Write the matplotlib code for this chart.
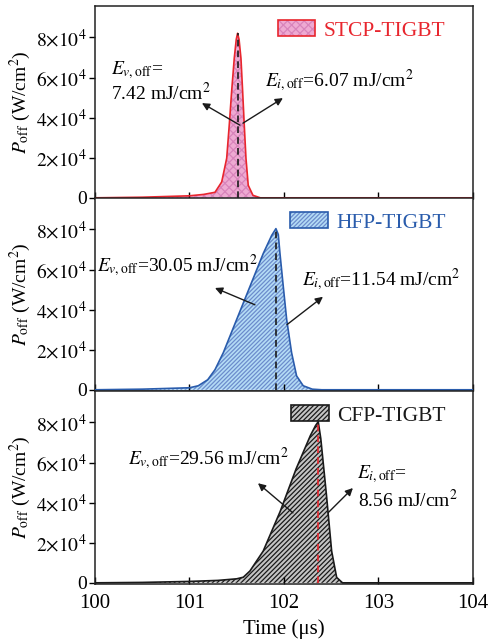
import matplotlib
matplotlib.use("Agg")
import matplotlib.pyplot as plt
from matplotlib.patches import Patch
from matplotlib.legend_handler import HandlerTuple
from matplotlib.ticker import FixedLocator, FixedFormatter

plt.rcParams['font.family'] = ['Liberation Serif', 'DejaVu Serif']
plt.rcParams['mathtext.fontset'] = 'stix'
plt.rcParams['axes.linewidth'] = 1.1
plt.rcParams['hatch.linewidth'] = 0.9

# turn-off power density (W/cm^2) vs time (us)
t_stcp = [100.0, 100.5, 101.0, 101.15, 101.27, 101.341, 101.394, 101.421, 101.446,
          101.474, 101.495, 101.509, 101.525, 101.545, 101.563, 101.58, 101.598,
          101.622, 101.672, 101.75, 104.0]
p_stcp = [0, 300, 1000, 1700, 2750, 7900, 19750, 36250, 52900,
          69600, 79000, 82100, 79000, 69600, 52900, 36250, 19750,
          6250, 1250, 0, 0]

t_hfp = [100.0, 100.5, 101.0, 101.093, 101.193, 101.27, 101.358, 101.499, 101.64,
         101.781, 101.87, 101.915, 101.94, 101.958, 101.993, 102.029, 102.081,
         102.134, 102.204, 102.3, 102.4, 104.0]
p_hfp = [0, 300, 1000, 2000, 5000, 10000, 18500, 35000, 51500,
         68000, 77000, 80400, 77500, 68000, 51500, 35000, 18500,
         6900, 2000, 300, 0, 0]

t_cfp = [100.0, 100.5, 101.0, 101.3, 101.5, 101.57, 101.64, 101.78, 101.96,
         102.13, 102.28, 102.335, 102.363, 102.39, 102.45, 102.505, 102.558,
         102.62, 104.0]
p_cfp = [0, 200, 700, 1200, 2000, 2800, 5900, 15800, 35600,
         57000, 73500, 78500, 80400, 72000, 43800, 15800, 2700,
         0, 0]

names = ['STCP-TIGBT', 'HFP-TIGBT', 'CFP-TIGBT']
peak_t = [101.509, 101.915, 102.363]
peak_p = [82100, 80400, 80400]
ev_text = ['7.42', '30.05', '29.56']
ei_text = ['6.07', '11.54', '8.56']

yticks = [0, 20000, 40000, 60000, 80000]
ytick_labels = ['0', r'$2{\times}10^4$', r'$4{\times}10^4$', r'$6{\times}10^4$', r'$8{\times}10^4$']
xticks = [100, 101, 102, 103, 104]

line_colors = ['#e8262e', '#2a5cac', '#1a1a1a']
fill_colors = ['#eeaad2', '#b4dcf6', '#c4c4c4']
hatch_colors = ['#d884bb', '#6c8ccc', '#1a1a1a']
hatches = ['xxxx', '////////', '///////']
vline_colors = ['#1a1a1a', '#1a1a1a', '#e8262e']

series = [(t_stcp, p_stcp), (t_hfp, p_hfp), (t_cfp, p_cfp)]

fig = plt.figure(figsize=(4.88, 6.42), dpi=100)
left, width = 0.1947, 0.7743
bottoms = [0.690, 0.391, 0.0903]
h = 0.300
axes = [fig.add_axes([left, b, width, h]) for b in bottoms]

fs = 14
ev_lbl = r'$E_{v,\mathrm{off}}$'
ei_lbl = r'$E_{i,\mathrm{off}}$'
unit = r' mJ/cm$^2$'
arrow = dict(arrowstyle='-|>', color='#1a1a1a', lw=1.0, mutation_scale=11,
             shrinkA=0, shrinkB=0)

for i, ax in enumerate(axes):
    t, p = series[i]
    ax.fill_between(t, p, 0, facecolor=fill_colors[i], edgecolor=hatch_colors[i],
                    linewidth=0, hatch=hatches[i], zorder=1)
    ax.plot(t, p, color=line_colors[i], lw=1.2, zorder=3)
    ax.plot([peak_t[i], peak_t[i]], [0, peak_p[i]], color=vline_colors[i],
            lw=1.2, ls=(0, (4, 2.5)), zorder=4)

    ax.set_xlim(100, 104)
    ax.set_ylim(-600, 95500)
    ax.yaxis.set_major_locator(FixedLocator(yticks))
    ax.yaxis.set_major_formatter(FixedFormatter(ytick_labels))
    ax.set_xticks(xticks)
    ax.tick_params(axis='y', direction='out', length=4, width=1, labelsize=fs, pad=2)
    ax.tick_params(axis='x', direction='in', length=5, width=1, labelsize=fs + 1, pad=7)
    if i < 2:
        ax.tick_params(axis='x', labelbottom=False)
    for s in ax.spines.values():
        s.set_color('#222222')
    ax.set_ylabel(r'$P_{\mathrm{off}}$ (W/cm$^2$)', fontsize=fs)
    ax.yaxis.set_label_coords(-0.165, 0.5)

    handle = (Patch(facecolor=fill_colors[i], edgecolor=hatch_colors[i], hatch=hatches[i], lw=0),
              Patch(fill=False, edgecolor=line_colors[i], lw=1.2))
    leg = ax.legend([handle], [names[i]], handler_map={tuple: HandlerTuple(ndivide=1)},
                    loc='upper right', frameon=False, fontsize=15.5,
                    handlelength=1.75, handleheight=0.75, handletextpad=0.4,
                    borderaxespad=0.25, bbox_to_anchor=(0.965, 1.0))
    for txt in leg.get_texts():
        txt.set_color(line_colors[i])

axes[2].set_xlabel('Time (μs)', fontsize=fs + 1, labelpad=5)

# panel 1 annotations
a = axes[0]
a.text(100.17, 63750, ev_lbl + '=', fontsize=fs, ha='left', va='center', zorder=5)
a.text(100.17, 52250, ev_text[0] + unit, fontsize=fs, ha='left', va='center', zorder=5)
a.annotate('', xy=(101.132, 47250), xytext=(101.534, 36250), arrowprops=arrow, zorder=5)
a.text(101.80, 58750, ei_lbl + '=' + ei_text[0] + unit, fontsize=fs, ha='left', va='center', zorder=5)
a.annotate('', xy=(101.989, 49750), xytext=(101.566, 37250), arrowprops=arrow, zorder=5)

# panel 2 annotations
a = axes[1]
a.text(100.02, 62200, ev_lbl + '=' + ev_text[1] + unit, fontsize=fs, ha='left', va='center', zorder=5)
a.annotate('', xy=(101.27, 50800), xytext=(101.693, 42400), arrowprops=arrow, zorder=5)
a.text(102.187, 54800, ei_lbl + '=' + ei_text[1] + unit, fontsize=fs, ha='left', va='center', zorder=5)
a.annotate('', xy=(102.413, 46400), xytext=(102.032, 32500), arrowprops=arrow, zorder=5)

# panel 3 annotations
a = axes[2]
a.text(100.353, 61900, ev_lbl + '=' + ev_text[2] + unit, fontsize=fs, ha='left', va='center', zorder=5)
a.annotate('', xy=(101.725, 49700), xytext=(102.095, 34900), arrowprops=arrow, zorder=5)
a.text(102.769, 54500, ei_lbl + '=', fontsize=fs, ha='left', va='center', zorder=5)
a.text(102.78, 41300, ei_text[2] + unit, fontsize=fs, ha='left', va='center', zorder=5)
a.annotate('', xy=(102.73, 47300), xytext=(102.466, 34900), arrowprops=arrow, zorder=5)

fig.savefig('out.png', dpi=100)
